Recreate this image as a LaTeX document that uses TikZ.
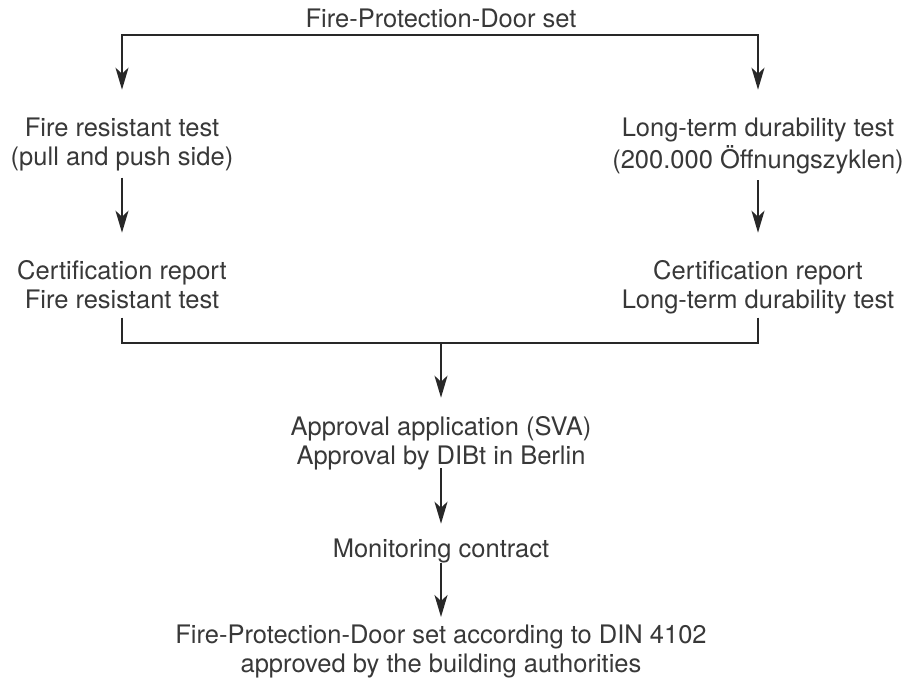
\documentclass[tikz,border=0pt]{standalone}
\usepackage{fontspec}
\setmainfont{TeX Gyre Heros}
\usetikzlibrary{arrows.meta}
\definecolor{inkgray}{HTML}{282828}
\definecolor{textgray}{HTML}{383838}
\begin{document}
\begin{tikzpicture}[x=1pt,y=-1pt,
  label/.style={inner sep=0pt, outer sep=0pt, anchor=base, text=textgray,
    font=\fontsize{25.5}{29}\selectfont},
  link/.style={draw=inkgray, line width=2pt},
  arr/.style={link, -{Stealth[length=22pt,width=13pt,inset=6pt]}}]
\useasboundingbox (0,0) rectangle (911,690);

% texts
\node[label] (top)   at (441,28)  {Fire-Protection-Door set};
\node[label] (fire)  at (122,137) {\begin{tabular}[t]{@{}c@{}}Fire resistant test\\(pull and push side)\end{tabular}};
\node[label] (dur)   at (758,137) {\begin{tabular}[t]{@{}c@{}}Long-term durability test\\(200.000 Öffnungszyklen)\end{tabular}};
\node[label] (certF) at (122,279) {\begin{tabular}[t]{@{}c@{}}Certification report\\Fire resistant test\end{tabular}};
\node[label] (certD) at (758,279) {\begin{tabular}[t]{@{}c@{}}Certification report\\Long-term durability test\end{tabular}};
\node[label] (appr)  at (441,435) {\begin{tabular}[t]{@{}c@{}}Approval application (SVA)\\Approval by DIBt in Berlin\end{tabular}};
\node[label] (mon)   at (441,557) {Monitoring contract};
\node[label] (final) at (441,643) {\begin{tabular}[t]{@{}c@{}}Fire-Protection-Door set according to DIN 4102\\approved by the building authorities\end{tabular}};

% split below the top line
\coordinate (split) at (441,35);
\draw[arr] (split) -| ([yshift=27pt]fire.north);
\draw[arr] (split) -| ([yshift=27pt]dur.north);

% the two test branches
\draw[arr] ([yshift=-3pt]fire.south) -- ([yshift=26pt]certF.north);
\draw[arr] ([yshift=-3pt]dur.south) -- ([yshift=26pt]certD.north);

% merge of both certification reports
\coordinate (merge) at (441,343);
\draw[link] ([yshift=-1pt]certF.south) |- (merge);
\draw[link] ([yshift=-1pt]certD.south) |- (merge);
\draw[arr] (merge) -- ([yshift=17pt]appr.north);

% approval chain
\draw[arr] ([yshift=4.7pt]appr.south) -- ([yshift=14.7pt]mon.north);
\draw[arr] (mon.south) -- ([yshift=5.7pt]final.north);
\end{tikzpicture}
\end{document}
